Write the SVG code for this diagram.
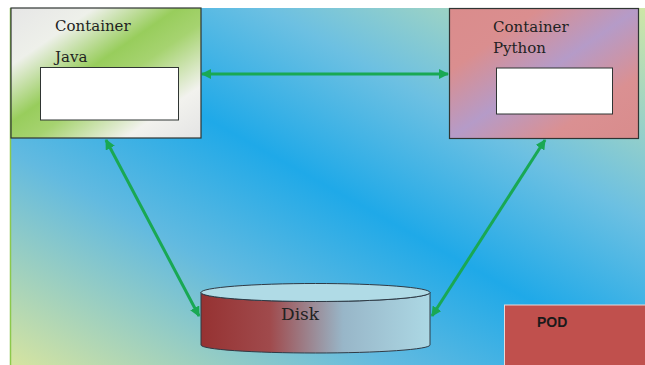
<svg xmlns="http://www.w3.org/2000/svg" width="645" height="365" viewBox="0 0 645 365">
  <defs>
    <linearGradient id="bg" x1="1" y1="0" x2="0" y2="1">
      <stop offset="0" stop-color="#cfe6a6"/>
      <stop offset="0.3" stop-color="#6cc0e2"/>
      <stop offset="0.5" stop-color="#1fa9e8"/>
      <stop offset="0.7" stop-color="#62bae0"/>
      <stop offset="1" stop-color="#d6e4a0"/>
    </linearGradient>
    <linearGradient id="javaFill" x1="0" y1="0" x2="1" y2="1">
      <stop offset="0" stop-color="#e6e6e6"/>
      <stop offset="0.22" stop-color="#eef0ea"/>
      <stop offset="0.44" stop-color="#98cd5c"/>
      <stop offset="0.56" stop-color="#a6d370"/>
      <stop offset="0.8" stop-color="#f2f2ee"/>
      <stop offset="1" stop-color="#e4e4e4"/>
    </linearGradient>
    <linearGradient id="pyFill" x1="0" y1="0" x2="1" y2="1">
      <stop offset="0" stop-color="#da8c8c"/>
      <stop offset="0.24" stop-color="#da8e8f"/>
      <stop offset="0.5" stop-color="#b59bc8"/>
      <stop offset="0.76" stop-color="#da9092"/>
      <stop offset="1" stop-color="#d98c8c"/>
    </linearGradient>
    <linearGradient id="diskFill" x1="0" y1="0" x2="1" y2="0">
      <stop offset="0" stop-color="#963232"/>
      <stop offset="0.3" stop-color="#a04a4c"/>
      <stop offset="0.62" stop-color="#98b6c8"/>
      <stop offset="1" stop-color="#acd8e4"/>
    </linearGradient>
    <marker id="ah" viewBox="0 0 10 10" refX="9" refY="5" markerWidth="3.4" markerHeight="3.4" orient="auto-start-reverse" markerUnits="strokeWidth">
      <path d="M0,0 L10,5 L0,10 Z" fill="#19a854"/>
    </marker>
    <style>
      .box { stroke: #2f3533; stroke-width: 1.2; }
      .inner { fill: #ffffff; stroke: #2f3533; stroke-width: 1; }
      .lbl { font-family: "DejaVu Serif", "Liberation Serif", serif; font-size: 15px; fill: #222222; }
      .conn { stroke: #19a854; stroke-width: 3; fill: none; marker-start: url(#ah); marker-end: url(#ah); }
    </style>
  </defs>

  <rect x="0" y="0" width="645" height="365" fill="#ffffff"/>
  <rect x="10" y="8" width="635" height="357" fill="url(#bg)"/>
  <line x1="10.5" y1="8" x2="10.5" y2="365" stroke="#8cc84b" stroke-width="1.5"/>

  <g id="connectors">
    <line class="conn" x1="202" y1="74" x2="448" y2="74"/>
    <line class="conn" x1="106" y1="140" x2="199" y2="316"/>
    <line class="conn" x1="545" y1="140" x2="432" y2="316"/>
  </g>

  <g id="java">
    <rect class="box" x="11" y="8" width="190" height="130" fill="url(#javaFill)"/>
    <rect class="inner" x="40.5" y="67.5" width="138" height="52.5"/>
    <text class="lbl" x="55" y="31">Container</text>
    <text class="lbl" x="55" y="62">Java</text>
  </g>

  <g id="python">
    <rect class="box" x="449.5" y="8.5" width="189" height="130" fill="url(#pyFill)"/>
    <rect class="inner" x="496.5" y="68" width="116" height="46"/>
    <text class="lbl" x="493" y="32">Container</text>
    <text class="lbl" x="493" y="53">Python</text>
  </g>

  <g id="disk">
    <path d="M201,292.5 V345 A114.5,8 0 0 0 430,345 V292.5 A114.5,9 0 0 1 201,292.5 Z" fill="url(#diskFill)" stroke="#2f3a45" stroke-width="1"/>
    <ellipse cx="315.5" cy="292.5" rx="114.5" ry="9" fill="#b0dbe6" stroke="#2f3a45" stroke-width="1"/>
    <text x="281" y="320" font-family="DejaVu Serif, Liberation Serif, serif" font-size="17" fill="#222222">Disk</text>
  </g>

  <g id="pod">
    <rect x="504.5" y="305" width="141" height="61" fill="#c0504d" stroke="#e8d8d8" stroke-width="1"/>
    <text x="537" y="327" font-family="Liberation Sans, Arial, sans-serif" font-size="14" font-weight="bold" fill="#1a1a1a">POD</text>
  </g>
</svg>
